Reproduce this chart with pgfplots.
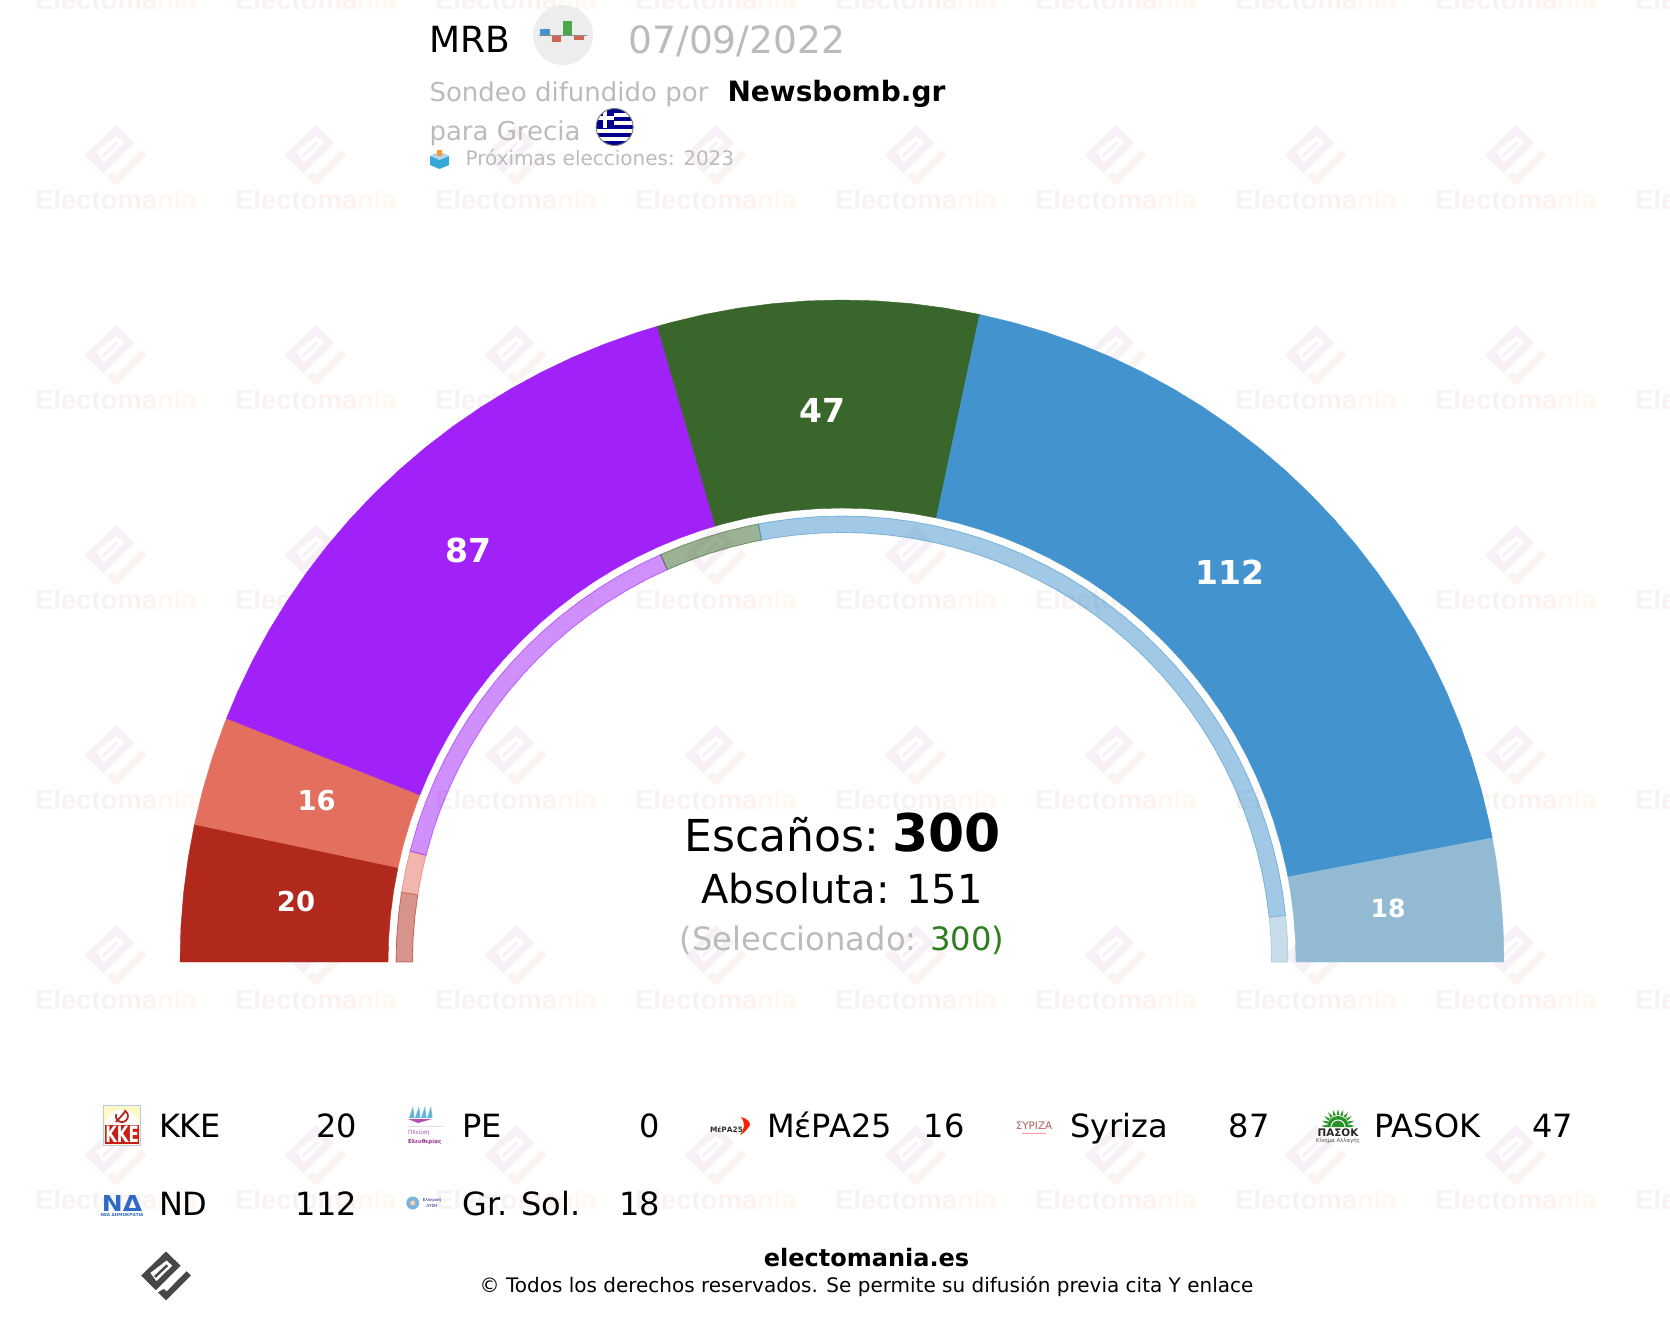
\documentclass[border=0pt]{standalone}
\usepackage{pgfplots}
\pgfplotsset{compat=1.18}
\usepackage{fontspec}
\setmainfont{DejaVu Sans}
\newfontfamily\wmfont{Liberation Sans}
\newcommand\fs[1]{\fontsize{#1}{#1}\selectfont}
\definecolor{ckke}{HTML}{B0291C}
\definecolor{cmera}{HTML}{E3705E}
\definecolor{csyr}{HTML}{A022F9}
\definecolor{cpas}{HTML}{38662B}
\definecolor{cnd}{HTML}{4394CE}
\definecolor{cgs}{HTML}{92BBD3}
\definecolor{cgrey}{HTML}{BBBBBB}
\definecolor{cgreen}{HTML}{2E7D1E}
\definecolor{cndlogo}{HTML}{2F6BC4}
\definecolor{wmA}{HTML}{F7F1F7}
\definecolor{wmB}{HTML}{FBF5F2}
\definecolor{wmC}{HTML}{F9F2F2}
\definecolor{wmD}{HTML}{FCF1EE}
\definecolor{wmE}{HTML}{FFF8EE}
\newcommand\elogo[5]{%
 \begin{scope}[shift={(#1,#2)},scale=#3]
 \fill[#4,even odd rule] (0,-30)--(18.3,-12.3)--(-12.7,18.3)--(-31,0)--cycle
   (-19.7,-3.3)--(.7,-19)--(8,-12.3)--(-12,7.3)--cycle;
 \fill[#4] (-15,.7)--(.7,-14)--(2.7,-11.7)--(-12.7,2.7)--cycle;
 \fill[#5] (-10,21)--(-2.7,16.7)--(.7,20)--(25.7,-5.3)--(31,0)--(0,31)--cycle;
 \end{scope}}
\begin{document}
\begin{tikzpicture}[x=.5pt,y=-.5pt,inner sep=0pt,outer sep=0pt]
\path[use as bounding box] (0,0) rectangle (1670,1324);
% ---- watermark
\begin{scope}
\clip (0,0) rectangle (1670,1324);
\foreach \i in {0,...,8}{
 \pgfmathsetmacro\cx{116+200*\i}
 \foreach \j in {0,...,6}{
  \pgfmathsetmacro\by{9.3+200*\j}
  \node[anchor=base,font=\wmfont\bfseries\fs{13.7}] at (\cx,\by)
   {\textcolor{wmC}{Electo}\textcolor{wmD}{ma}\textcolor{wmE}{nía}};
  \ifnum\j>0\relax
   \pgfmathsetmacro\ly{155+200*(\j-1)}
   \elogo{\cx}{\ly}{1}{wmA}{wmB}
  \fi
 }}
\end{scope}
% ---- chart
\begin{axis}[at={(0,-662pt)},anchor=south west,scale only axis,width=835pt,height=662pt,
  xmin=-842,xmax=828,ymin=-362,ymax=962,hide axis,clip=false,
  every axis plot/.append style={mark=none,data cs=polar}]
% main sectors: seats 20,16,87,47,112,18 ; 0.6 degrees per seat
\addplot[fill=ckke,draw=ckke,line width=.2pt] coordinates {(180,662)(177,662)(174,662)(171,662)(168,662)(168,454)(171,454)(174,454)(177,454)(180,454)(180,662)};
\addplot[fill=cmera,draw=cmera,line width=.2pt] coordinates {(168,662)(165,662)(162,662)(159,662)(158.4,662)(158.4,454)(159,454)(162,454)(165,454)(168,454)(168,662)};
\addplot[fill=csyr,draw=csyr,line width=.2pt] coordinates {(158.4,662)(156,662)(153,662)(150,662)(147,662)(144,662)(141,662)(138,662)(135,662)(132,662)(129,662)(126,662)(123,662)(120,662)(117,662)(114,662)(111,662)(108,662)(106.2,662)(106.2,454)(108,454)(111,454)(114,454)(117,454)(120,454)(123,454)(126,454)(129,454)(132,454)(135,454)(138,454)(141,454)(144,454)(147,454)(150,454)(153,454)(156,454)(158.4,454)(158.4,662)};
\addplot[fill=cpas,draw=cpas,line width=.2pt] coordinates {(106.2,662)(105,662)(102,662)(99,662)(96,662)(93,662)(90,662)(87,662)(84,662)(81,662)(78,662)(78,454)(81,454)(84,454)(87,454)(90,454)(93,454)(96,454)(99,454)(102,454)(105,454)(106.2,454)(106.2,662)};
\addplot[fill=cnd,draw=cnd,line width=.2pt] coordinates {(78,662)(75,662)(72,662)(69,662)(66,662)(63,662)(60,662)(57,662)(54,662)(51,662)(48,662)(45,662)(42,662)(39,662)(36,662)(33,662)(30,662)(27,662)(24,662)(21,662)(18,662)(15,662)(12,662)(10.8,662)(10.8,454)(12,454)(15,454)(18,454)(21,454)(24,454)(27,454)(30,454)(33,454)(36,454)(39,454)(42,454)(45,454)(48,454)(51,454)(54,454)(57,454)(60,454)(63,454)(66,454)(69,454)(72,454)(75,454)(78,454)(78,662)};
\addplot[fill=cgs,draw=cgs,line width=.2pt] coordinates {(10.8,662)(9,662)(6,662)(3,662)(0,662)(0,454)(3,454)(6,454)(9,454)(10.8,454)(10.8,662)};
% inner ring: previous seats 15,9,86,22,158,10
\addplot[fill=ckke,draw=ckke,fill opacity=.5,draw opacity=.6,line width=.4pt] coordinates {(180,446)(177,446)(174,446)(171,446)(171,429.5)(174,429.5)(177,429.5)(180,429.5)(180,446)};
\addplot[fill=cmera,draw=cmera,fill opacity=.5,draw opacity=.6,line width=.4pt] coordinates {(171,446)(168,446)(165.6,446)(165.6,429.5)(168,429.5)(171,429.5)(171,446)};
\addplot[fill=csyr,draw=csyr,fill opacity=.5,draw opacity=.6,line width=.4pt] coordinates {(165.6,446)(162,446)(159,446)(156,446)(153,446)(150,446)(147,446)(144,446)(141,446)(138,446)(135,446)(132,446)(129,446)(126,446)(123,446)(120,446)(117,446)(114,446)(114,429.5)(117,429.5)(120,429.5)(123,429.5)(126,429.5)(129,429.5)(132,429.5)(135,429.5)(138,429.5)(141,429.5)(144,429.5)(147,429.5)(150,429.5)(153,429.5)(156,429.5)(159,429.5)(162,429.5)(165.6,429.5)(165.6,446)};
\addplot[fill=cpas,draw=cpas,fill opacity=.5,draw opacity=.6,line width=.4pt] coordinates {(114,446)(111,446)(108,446)(105,446)(102,446)(100.8,446)(100.8,429.5)(102,429.5)(105,429.5)(108,429.5)(111,429.5)(114,429.5)(114,446)};
\addplot[fill=cnd,draw=cnd,fill opacity=.5,draw opacity=.6,line width=.4pt] coordinates {(100.8,446)(99,446)(96,446)(93,446)(90,446)(87,446)(84,446)(81,446)(78,446)(75,446)(72,446)(69,446)(66,446)(63,446)(60,446)(57,446)(54,446)(51,446)(48,446)(45,446)(42,446)(39,446)(36,446)(33,446)(30,446)(27,446)(24,446)(21,446)(18,446)(15,446)(12,446)(9,446)(6,446)(6,429.5)(9,429.5)(12,429.5)(15,429.5)(18,429.5)(21,429.5)(24,429.5)(27,429.5)(30,429.5)(33,429.5)(36,429.5)(39,429.5)(42,429.5)(45,429.5)(48,429.5)(51,429.5)(54,429.5)(57,429.5)(60,429.5)(63,429.5)(66,429.5)(69,429.5)(72,429.5)(75,429.5)(78,429.5)(81,429.5)(84,429.5)(87,429.5)(90,429.5)(93,429.5)(96,429.5)(99,429.5)(100.8,429.5)(100.8,446)};
\addplot[fill=cgs,draw=cgs,fill opacity=.5,draw opacity=.6,line width=.4pt] coordinates {(6,446)(3,446)(0,446)(0,429.5)(3,429.5)(6,429.5)(6,446)};
\end{axis}
% ---- sector labels
\begin{scope}[every node/.style={text=white,font=\bfseries}]
\node[font=\bfseries\fs{13.7}] at (296,901.7) {20};
\node[font=\bfseries\fs{13.7}] at (316.7,800.7) {16};
\node[font=\bfseries\fs{16.5}] at (468,550) {87};
\node[font=\bfseries\fs{16.5}] at (822,410) {47};
\node[font=\bfseries\fs{16.5}] at (1230,572) {112};
\node[font=\bfseries\fs{12.5}] at (1388,908) {18};
\end{scope}
% ---- header
\node[anchor=base west,font=\fs{18}] at (429.5,52) {MRB};
\fill[black!7] (563,35) circle (30);
\fill[cnd] (540,29) rectangle (550,35);
\fill[cmera!90!black] (551.5,35) rectangle (561,42);
\fill[green!50!black!70] (563,21) rectangle (572,35);
\fill[cmera!90!black] (574,35) rectangle (583.6,40);
\draw[black!45,line width=.5pt] (539,35)--(587,35);
\node[anchor=base west,text=cgrey,font=\fs{18.8}] at (628.5,53) {07/09/2022};
\node[anchor=base west,text=cgrey,font=\fs{13}] at (429.5,101) {Sondeo difundido por};
\node[anchor=base west,font=\bfseries\fs{14}] at (727.5,101) {Newsbomb.gr};
\node[anchor=base west,text=cgrey,font=\fs{13}] at (429.5,140) {para Grecia};
\begin{scope}
\clip (614.6,127) circle (18.5);
\fill[white] (596,108) rectangle (634,146);
\foreach \y in {108.5,116.7,124.9,133.1,141.3}{\fill[blue!55!black] (596,\y) rectangle (634,\y+4.1);}
\fill[blue!55!black] (596,108) rectangle (614,128);
\fill[white] (603,108) rectangle (606.6,128);
\fill[white] (596,116.2) rectangle (614,119.8);
\end{scope}
\draw[black!50,line width=.5pt] (614.6,127) circle (18.5);
\fill[cnd!80!cyan] (430,156)--(439.5,152)--(449,156)--(449,165)--(439.5,169)--(430,165)--cycle;
\fill[cnd!40!white] (430,156)--(439.5,152)--(449,156)--(439.5,160)--cycle;
\fill[orange!80] (437,150) rectangle (442,156);
\node[anchor=base west,text=cgrey,font=\fs{10}] at (465.7,165.7) {Próximas elecciones: 2023};
% ---- centre
\node[anchor=base,font=\fs{22}] at (843,851.2) {Escaños:\hspace{-2.7pt} {\bfseries\fs{26}300}};
\node[anchor=base,font=\fs{20}] at (842,903) {Absoluta: 151};
\node[anchor=base,font=\fs{16.1},text=cgrey] at (842,950) {(Seleccionado: \textcolor{cgreen}{300)}};
% ---- legend
\foreach \t/\x/\r/\b/\v in {KKE/159/357/1137/20,PE/462.5/660/1137/0,M\'{ε}PA25/767/964.5/1137/16,Syriza/1070.5/1269.5/1137/87,PASOK/1374.5/1573/1137/47,ND/159/357/1215/112,Gr. Sol./462.5/660/1215/18}{
 \node[anchor=base west,font=\fs{16}] at (\x,\b) {\t};
 \node[anchor=base east,font=\fs{16}] at (\r,\b) {\v};
}
% ---- party logos
% KKE
\fill[orange!20!yellow!22] (103.5,1105.5) rectangle (140.5,1145);
\fill[white] (122,1126) ellipse (17 and 16);
\fill[ckke!70!red] (105,1125) rectangle (139,1144);
\draw[cyan!60!blue!30,line width=.5pt] (103.5,1105.5) rectangle (140.5,1145);
\node[text=white,font=\bfseries\fs{7.5}] at (122,1134.5) {\scalebox{1}[1.5]{KKE}};
\draw[ckke,line width=.9pt] (124,1110.4) arc (-70:200:6);
\draw[ckke,line width=.9pt] (116,1122)--(125,1112);
% ND
\node[text=cndlogo,font=\bfseries\fs{10}] at (122,1203) {\scalebox{1.25}[1.1]{ΝΔ}};
\node[text=cndlogo,font=\bfseries\fs{2.1}] at (122,1215) {ΝΕΑ ΔΗΜΟΚΡΑΤΙΑ};
% PE
\foreach \x in {409,415,421,427}{\fill[cyan!60!teal!70] (\x,1118)--(\x+4,1106)--(\x+5.5,1118)--cycle;}
\fill[magenta!60!blue!70] (408,1119)--(432,1119)--(418,1123)--cycle;
\draw[black!12,line width=.3pt] (408,1126)--(444,1126);
\node[anchor=base west,text=magenta!50!blue!70,font=\fs{2.9}] at (408,1134) {Πλεύση};
\node[anchor=base west,text=magenta!60!blue!85!black,font=\bfseries\fs{2.7}] at (408,1143) {Ελευθερίας};
% Gr. Sol.
\fill[cnd!70] (412.7,1203) circle (6.5);
\fill[orange!35] (412.7,1203) circle (2.5);
\node[text=blue!50!black,font=\fs{2}] at (432,1200) {Ελληνική};
\node[text=blue!50!black,font=\fs{2}] at (432,1206.5) {ΛΥΣΗ};
% MeRA25
\node[anchor=base west,text=black!80,font=\bfseries\fs{3.7}] at (710,1132) {Μ\'{ε}ΡΑ25};
\fill[red!75!orange] (741,1117)..controls (748,1119) and (750,1122)..(750,1125)..controls (747,1130) and (744,1133)..(740,1135)..controls (744,1130) and (746,1124)..(741,1117)--cycle;
% Syriza
\node[text=red!55!black!65,font=\fs{5.2}] at (1034,1125.5) {ΣΥΡΙΖΑ};
\draw[red!40!white,line width=.4pt] (1022,1133)--(1046,1133);
% PASOK
\begin{scope}[shift={(1338,1126)}]
\foreach \a in {0,18,...,180}{\fill[green!50!black!85] (-\a-7:11)--(-\a:17)--(-\a+7:11)--cycle;}
\fill[green!50!black!85] (-11,1) arc (180:360:11) -- cycle;
\draw[white,line width=.5pt] (-7,1) arc (180:360:7);
\end{scope}
\node[text=black!85,font=\bfseries\fs{5.2}] at (1338,1133) {ΠΑΣΟΚ};
\node[text=black!70,font=\fs{2.7}] at (1338,1141) {Κίνημα Αλλαγής};
% ---- footer
\node[anchor=base,font=\bfseries\fs{12}] at (866.5,1266.5) {electomania.es};
\node[anchor=base,font=\fs{10}] at (866.5,1292.7) {© Todos los derechos reservados. Se permite su difusión previa cita Y enlace};
\elogo{166}{1275.5}{.8}{black!72}{black!72}
\end{tikzpicture}
\end{document}
